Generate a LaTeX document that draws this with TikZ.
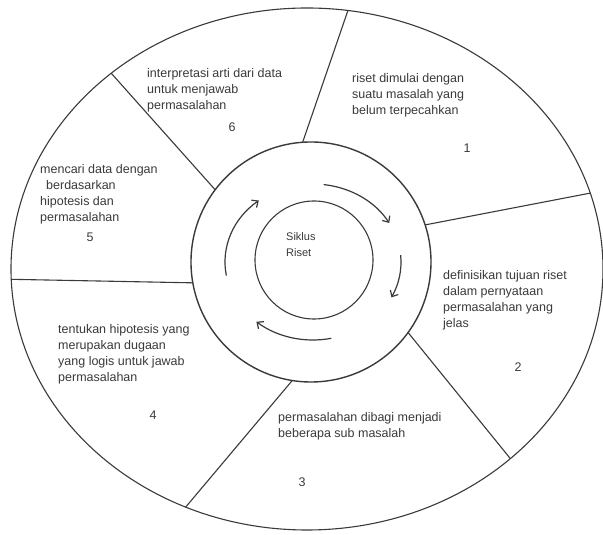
\documentclass[tikz,border=0pt]{standalone}
\usepackage{fontspec}
\setmainfont{Liberation Sans}
\usetikzlibrary{shapes.geometric,arrows.meta}
\definecolor{ink}{HTML}{3A3A3A}
\tikzset{
  lineink/.style={draw=ink, line width=1.1pt},
  label/.style={anchor=north west, inner sep=0pt, align=left, text=ink,
    font=\fontsize{12.5pt}{16pt}\selectfont},
  numlabel/.style={inner sep=0pt, text=ink, font=\fontsize{12.5pt}{16pt}\selectfont},
  cyclearrow/.style={draw=ink, line width=1.2pt, -{Straight Barb[length=5pt,width=9pt]}}
}
\begin{document}
\begin{tikzpicture}[x=1pt,y=1pt]
\fill[white] (0,0) rectangle (603,535);
\useasboundingbox (0,0) rectangle (603,535);
% circles
\node[ellipse, lineink, minimum width=592pt, minimum height=522pt, inner sep=0pt, outer sep=0pt] (outer) at (307,266) {};
\node[circle, lineink, line width=1.4pt, minimum size=240pt, inner sep=0pt, outer sep=0pt] (ring) at (311,273) {};
\node[circle, lineink, minimum size=118pt, inner sep=0pt, outer sep=0pt] (inner) at (314,275) {};
\node[label, font=\fontsize{11pt}{16pt}\selectfont] (title) at (286,302.5) {Siklus\\Riset};
% dividers
\draw[lineink] (ring.94) -- (outer.81);
\draw[lineink] (ring.18) -- (outer.15);
\draw[lineink] (ring.-36) -- (outer.-43);
\draw[lineink] (ring.-99) -- (outer.-117);
\draw[lineink] (ring.190) -- (outer.182);
\draw[lineink] (ring.143) -- (outer.135);
% cycle arrows
\coordinate (c) at (313,273);
\draw[cyclearrow] ([shift={(83:88pt and 78pt)}]c) arc[x radius=88pt, y radius=78pt, start angle=83, end angle=30];
\draw[cyclearrow] ([shift={(5:88pt and 78pt)}]c) arc[x radius=88pt, y radius=78pt, start angle=5, end angle=-27];
\draw[cyclearrow] ([shift={(-78:88pt and 78pt)}]c) arc[x radius=88pt, y radius=78pt, start angle=-78, end angle=-130];
\draw[cyclearrow] ([shift={(190:88pt and 78pt)}]c) arc[x radius=88pt, y radius=78pt, start angle=190, end angle=128];
% sector texts
\node[label] (t6) at (147,466.5) {interpretasi arti dari data\\untuk menjawab\\permasalahan};
\node[numlabel] (n6) at (232,408) {6};
\node[label] (t1) at (352,461.5) {riset dimulai dengan\\suatu masalah yang\\belum terpecahkan};
\node[numlabel] (n1) at (467,387) {1};
\node[label] (t5) at (40,370.5) {mencari data dengan\\\hspace*{6pt}berdasarkan\\hipotesis dan\\permasalahan};
\node[numlabel] (n5) at (90,298) {5};
\node[label] (t2) at (443,264.5) {definisikan tujuan riset\\dalam pernyataan\\permasalahan yang\\jelas};
\node[numlabel] (n2) at (518,168) {2};
\node[label] (t4) at (58,210.5) {tentukan hipotesis yang\\merupakan dugaan\\yang logis untuk jawab\\permasalahan};
\node[numlabel] (n4) at (153,120) {4};
\node[label] (t3) at (278,122.5) {permasalahan dibagi menjadi\\beberapa sub masalah};
\node[numlabel] (n3) at (302,53) {3};
\end{tikzpicture}
\end{document}
